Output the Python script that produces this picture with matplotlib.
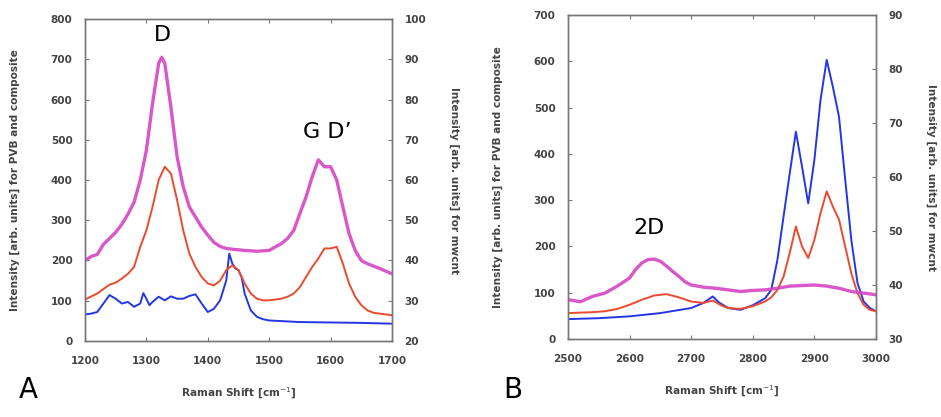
import matplotlib
matplotlib.use("Agg")
import matplotlib.pyplot as plt

# Panel A: D / G / D' region (left axis = PVB and composite, right axis = MWCNT)
a_pvb_x = [1200, 1210, 1220, 1230, 1240, 1250, 1260, 1270, 1280, 1290, 1295, 1300,
           1305, 1310, 1320, 1330, 1340, 1350, 1360, 1370, 1380, 1390, 1400, 1410,
           1420, 1430, 1435, 1440, 1445, 1450, 1455, 1460, 1470, 1480, 1490, 1500,
           1550, 1600, 1650, 1700]
a_pvb_y = [66, 68, 72, 93, 114, 105, 93, 97, 85, 93, 119, 105,
           89, 97, 110, 101, 111, 105, 105, 112, 116, 93, 72, 80,
           101, 150, 217, 192, 180, 176, 159, 118, 76, 60, 54, 51,
           47, 46, 45, 43]

a_comp_x = [1200, 1220, 1240, 1250, 1260, 1270, 1280, 1290, 1300, 1310, 1320, 1330,
            1340, 1350, 1360, 1370, 1380, 1390, 1400, 1410, 1420, 1430, 1440, 1450,
            1460, 1470, 1480, 1490, 1500, 1510, 1520, 1530, 1540, 1550, 1560, 1570,
            1580, 1590, 1600, 1610, 1620, 1630, 1640, 1650, 1660, 1670, 1680, 1700]
a_comp_y = [103, 118, 140, 145, 155, 167, 184, 234, 275, 333, 400, 433,
            416, 350, 275, 217, 184, 159, 143, 138, 150, 176, 188, 176,
            143, 118, 105, 101, 101, 103, 105, 110, 118, 134, 159, 184,
            205, 230, 230, 234, 192, 143, 110, 89, 76, 70, 68, 64]

a_cnt_x = [1200, 1210, 1220, 1230, 1240, 1250, 1260, 1270, 1280, 1290, 1300, 1310,
           1320, 1325, 1330, 1340, 1350, 1360, 1370, 1380, 1390, 1400, 1410, 1420,
           1430, 1440, 1460, 1480, 1500, 1510, 1520, 1530, 1540, 1550, 1560, 1570,
           1580, 1590, 1600, 1610, 1620, 1630, 1640, 1650, 1660, 1680, 1700]
a_cnt_y = [40.0, 41.0, 41.5, 44.0, 45.5, 47.0, 49.0, 51.5, 54.5, 60.0, 67.4, 79.0,
           89.0, 90.5, 89.0, 78.0, 65.8, 58.3, 53.3, 50.8, 48.3, 46.3, 44.5, 43.5,
           43.0, 42.8, 42.5, 42.3, 42.5, 43.4, 44.2, 45.5, 47.5, 51.7, 55.8, 60.8,
           65.0, 63.3, 63.3, 60.0, 53.3, 46.7, 42.5, 40.0, 39.2, 38.0, 36.7]

# Panel B: 2D / C-H stretch region
b_pvb_x = [2500, 2550, 2600, 2650, 2700, 2720, 2735, 2745, 2760, 2780, 2800, 2820,
           2830, 2840, 2850, 2860, 2870, 2880, 2890, 2900, 2910, 2920, 2930, 2940,
           2950, 2960, 2970, 2980, 2990, 3000]
b_pvb_y = [43, 45, 49, 56, 67, 78, 92, 79, 67, 63, 73, 88,
           106, 171, 265, 358, 448, 372, 293, 387, 517, 603, 545, 480,
           345, 214, 121, 81, 67, 60]

b_comp_x = [2500, 2540, 2560, 2580, 2600, 2620, 2640, 2660, 2680, 2700, 2720, 2735,
            2750, 2760, 2780, 2800, 2820, 2830, 2840, 2850, 2860, 2870, 2880, 2890,
            2900, 2910, 2920, 2930, 2940, 2950, 2960, 2970, 2980, 2990, 3000]
b_comp_y = [56, 58, 60, 65, 74, 85, 94, 97, 90, 81, 78, 83,
            72, 67, 65, 71, 81, 90, 106, 135, 186, 243, 200, 175,
            214, 272, 319, 286, 258, 200, 142, 99, 74, 63, 60]

b_cnt_x = [2500, 2520, 2540, 2560, 2580, 2600, 2610, 2620, 2630, 2640, 2650, 2660,
           2670, 2680, 2690, 2700, 2720, 2740, 2760, 2780, 2800, 2820, 2840, 2860,
           2880, 2900, 2920, 2940, 2960, 2980, 3000]
b_cnt_y = [37.3, 36.9, 37.9, 38.5, 39.8, 41.3, 42.9, 44.1, 44.7, 44.8, 44.4, 43.5,
           42.5, 41.6, 40.6, 40.0, 39.6, 39.4, 39.1, 38.8, 39.0, 39.1, 39.4, 39.8,
           39.9, 40.0, 39.8, 39.4, 38.8, 38.5, 38.2]

col_cnt = "#d446c4"
col_comp = "#ec4a2e"
col_pvb = "#2436e4"
tick_col = "#444444"
lab_kw = dict(fontsize=7.6, fontweight="bold", color=tick_col)

fig = plt.figure(figsize=(9.41, 4.17), dpi=100)
fig.patch.set_facecolor("white")


def style_axes(ax):
    for sp in ax.spines.values():
        sp.set_color("#777777")
        sp.set_linewidth(1.0)
    ax.tick_params(direction="in", length=3, width=0.8, color="#777777",
                   labelsize=7.5, labelcolor=tick_col)
    ax.tick_params(axis="x", pad=11)
    ax.tick_params(axis="y", pad=9)
    for lbl in ax.get_xticklabels() + ax.get_yticklabels():
        lbl.set_fontweight("bold")


def make_panel(rect, xlim, xticks, ylim_l, yticks_l, ylim_r, yticks_r,
               pvb, comp, cnt):
    ax = fig.add_axes(rect)
    ax.plot(pvb[0], pvb[1], color=col_pvb, lw=1.4)
    ax.plot(comp[0], comp[1], color=col_comp, lw=1.4)
    ax.set_xlim(*xlim)
    ax.set_ylim(*ylim_l)
    ax.set_xticks(xticks)
    ax.set_yticks(yticks_l)
    ax.tick_params(top=True)
    ax.set_xlabel("Raman Shift [cm$^{-1}$]", labelpad=14, **lab_kw)
    ax.set_ylabel("Intensity [arb. units] for PVB and composite", labelpad=22, **lab_kw)

    ax2 = ax.twinx()
    ax2.plot(cnt[0], cnt[1], color=col_cnt, lw=2.4, alpha=0.9)
    ax2.set_ylim(*ylim_r)
    ax2.set_yticks(yticks_r)
    ax2.set_ylabel("Intensity [arb. units] for mwcnt", rotation=270,
                   labelpad=24, **lab_kw)
    style_axes(ax)
    style_axes(ax2)
    return ax, ax2


axA, axA2 = make_panel([0.0903, 0.1823, 0.3263, 0.772], (1200, 1700),
                       range(1200, 1701, 100), (0, 800), range(0, 801, 100),
                       (20, 100), range(20, 101, 10),
                       (a_pvb_x, a_pvb_y), (a_comp_x, a_comp_y), (a_cnt_x, a_cnt_y))
axA.text(1326, 735, "D", fontsize=16, ha="center", va="bottom")
axA.text(1595, 495, "G D\u2019", fontsize=16, ha="center", va="bottom")
fig.text(0.03, 0.03, "A", fontsize=20, ha="center", va="bottom")

axB, axB2 = make_panel([0.6036, 0.187, 0.3273, 0.777], (2500, 3000),
                       range(2500, 3001, 100), (0, 700), range(0, 701, 100),
                       (30, 90), range(30, 91, 10),
                       (b_pvb_x, b_pvb_y), (b_comp_x, b_comp_y), (b_cnt_x, b_cnt_y))
axB.text(2632, 218, "2D", fontsize=16, ha="center", va="bottom")
fig.text(0.545, 0.03, "B", fontsize=20, ha="center", va="bottom")

fig.savefig("out.png", dpi=100, facecolor="white")
